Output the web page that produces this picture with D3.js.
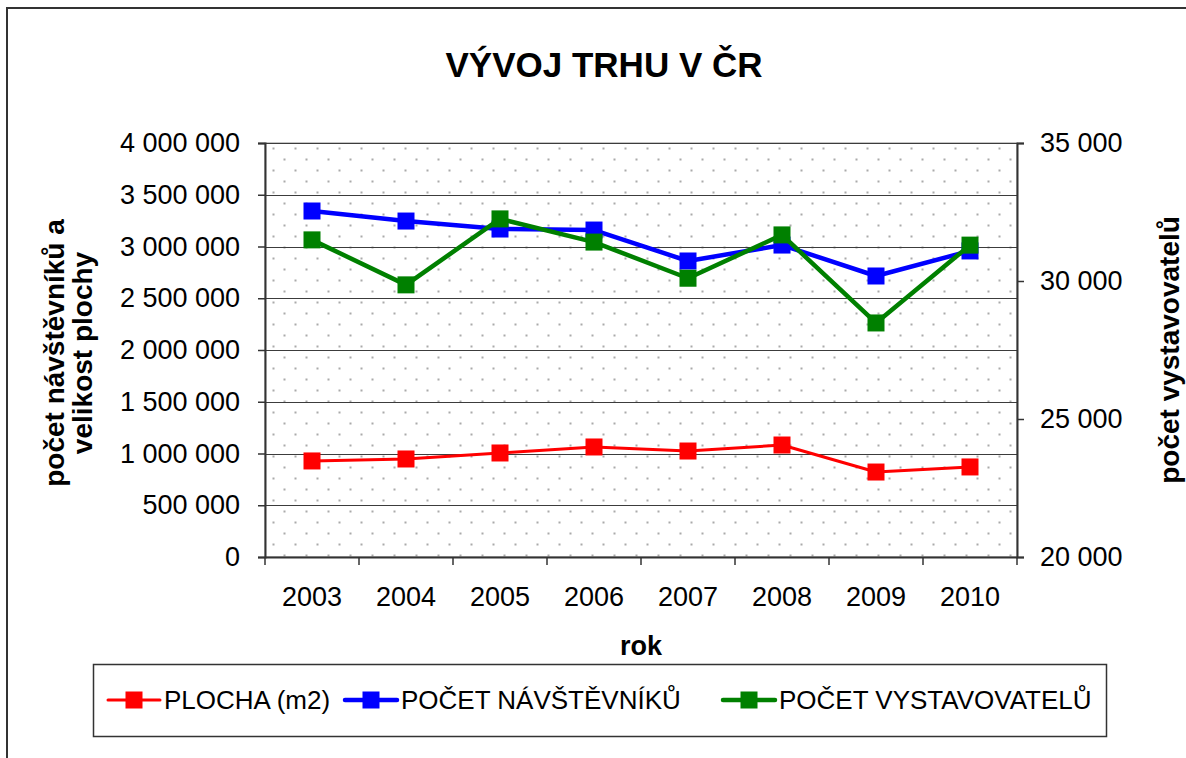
<!DOCTYPE html>
<head>
  <meta charset="utf-8">
  <title>Vývoj trhu v ČR</title>
  <script src="https://d3js.org/d3.v7.min.js"></script>
  <style>
    body { margin: 0; background: #fff; overflow: hidden; }
    svg { display: block; }
    text { font-family: "Liberation Sans", Arial, sans-serif; fill: #000; }
  </style>
</head>
<body>
<script>

  // data
  let years = ["2003","2004","2005","2006","2007","2008","2009","2010"];
  let plocha = [928000, 947000, 1005000, 1063000, 1024000, 1082000, 821000, 870000];
  let navstevnici = [3343000, 3246000, 3169000, 3159000, 2860000, 3014000, 2715000, 2957000];
  let vystavovatele = [31490, 29860, 32250, 31410, 30100, 31670, 28480, 31300];
  let leftTicks = [0,500000,1000000,1500000,2000000,2500000,3000000,3500000,4000000];
  let rightTicks = [20000,25000,30000,35000];

  let width = 1186;
  let height = 758;
  let plot = {left: 265, right: 1017, top: 143, bottom: 557};
  let fontSize = "27px";

  let locale = d3.formatLocale({decimal: ",", thousands: " ", grouping: [3], currency: ["",""]});
  let fmt = locale.format(",");

  let svg = d3.select("body").append("svg")
      .attr("width", width)
      .attr("height", height);

  // outer chart border (right and bottom edges fall outside the picture)
  svg.append("rect")
      .attr("x", 7).attr("y", 8)
      .attr("width", 1220).attr("height", 800)
      .style("fill", "none")
      .style("stroke", "#333")
      .style("stroke-width", 2);

  let x = d3.scaleBand().domain(years).range([plot.left, plot.right]);
  let yLeft = d3.scaleLinear().domain([0, 4000000]).range([plot.bottom, plot.top]);
  let yRight = d3.scaleLinear().domain([20000, 35000]).range([plot.bottom, plot.top]);

  // dotted background
  let defs = svg.append("defs");
  let pat = defs.append("pattern")
      .attr("id", "dots")
      .attr("patternUnits", "userSpaceOnUse")
      .attr("x", plot.left).attr("y", plot.top)
      .attr("width", 22).attr("height", 22);
  pat.append("rect").attr("width", 22).attr("height", 22).style("fill", "#fff");
  pat.append("rect").attr("x", 7.5).attr("y", 4.5).attr("width", 2).attr("height", 2).style("fill", "#aaa");
  pat.append("rect").attr("x", 18.5).attr("y", 15.5).attr("width", 2).attr("height", 2).style("fill", "#aaa");

  svg.append("rect")
      .attr("x", plot.left).attr("y", plot.top)
      .attr("width", plot.right - plot.left)
      .attr("height", plot.bottom - plot.top)
      .style("fill", "url(#dots)")
      .style("stroke", "#8c8c8c")
      .style("stroke-width", 1);

  // gridlines
  svg.append("g").selectAll("line")
      .data(leftTicks.slice(1))
      .enter()
      .append("line")
      .attr("x1", plot.left).attr("x2", plot.right)
      .attr("y1", d => Math.round(yLeft(d)) + 0.5)
      .attr("y2", d => Math.round(yLeft(d)) + 0.5)
      .style("stroke", "#3c3c3c")
      .style("stroke-width", 1);

  // left axis
  let gLeft = svg.append("g")
      .attr("transform", "translate(" + plot.left + ",0)")
      .call(d3.axisLeft(yLeft).tickValues(leftTicks).tickFormat(fmt).tickSize(7).tickPadding(18));

  // right axis
  let gRight = svg.append("g")
      .attr("transform", "translate(" + plot.right + ",0)")
      .call(d3.axisRight(yRight).tickValues(rightTicks).tickFormat(fmt).tickSize(7).tickPadding(16));

  // bottom axis, ticks on band boundaries
  let gBottom = svg.append("g")
      .attr("transform", "translate(0," + plot.bottom + ")")
      .call(d3.axisBottom(x).tickSize(0).tickPadding(30));
  gBottom.selectAll(".tick").append("line")
      .attr("class", "bound")
      .attr("x1", -x.bandwidth() / 2).attr("x2", -x.bandwidth() / 2)
      .attr("y1", 0).attr("y2", 8);
  gBottom.append("line")
      .attr("class", "bound")
      .attr("x1", plot.right).attr("x2", plot.right)
      .attr("y1", 0).attr("y2", 8);

  [gLeft, gRight, gBottom].forEach(function (g) {
    g.selectAll("text")
      .style("font-family", "'Liberation Sans', Arial, sans-serif")
      .style("font-size", fontSize)
      .style("fill", "#000");
    g.selectAll("line").style("stroke", "#333").style("stroke-width", 1.5);
    g.select(".domain").style("stroke", "#333").style("stroke-width", 2);
  });

  // series
  let series = [
    {name: "PLOCHA (m2)", values: plocha, scale: yLeft, color: "#ff0000", width: 3},
    {name: "POČET NÁVŠTĚVNÍKŮ", values: navstevnici, scale: yLeft, color: "#0000ff", width: 4.5},
    {name: "POČET VYSTAVOVATELŮ", values: vystavovatele, scale: yRight, color: "#008000", width: 4.5}
  ];

  let marker = 17;

  series.forEach(function (s) {
    let line = d3.line()
      .x((d, i) => x(years[i]) + x.bandwidth() / 2)
      .y(d => s.scale(d));

    svg.append("path")
      .datum(s.values)
      .attr("d", line)
      .style("fill", "none")
      .style("stroke", s.color)
      .style("stroke-width", s.width)
      .style("stroke-linejoin", "round");

    svg.append("g").selectAll("rect")
      .data(s.values)
      .enter()
      .append("rect")
      .attr("x", (d, i) => x(years[i]) + x.bandwidth() / 2 - marker / 2)
      .attr("y", d => s.scale(d) - marker / 2)
      .attr("width", marker).attr("height", marker)
      .style("fill", s.color);
  });

  // title
  svg.append("text")
      .text("VÝVOJ TRHU V ČR")
      .attr("x", 604).attr("y", 77)
      .attr("text-anchor", "middle")
      .style("font-size", "35px")
      .style("font-weight", "bold");

  // axis titles
  svg.append("text")
      .text("rok")
      .attr("x", (plot.left + plot.right) / 2).attr("y", 655)
      .attr("text-anchor", "middle")
      .style("font-size", fontSize)
      .style("font-weight", "bold");

  let leftTitle = svg.append("text")
      .attr("transform", "translate(64,353) rotate(-90)")
      .attr("text-anchor", "middle")
      .style("font-size", "28px")
      .style("font-weight", "bold");
  leftTitle.append("tspan").attr("x", 0).attr("y", 0).text("počet návštěvníků a");
  leftTitle.append("tspan").attr("x", 0).attr("y", 28).text("velikost plochy");

  svg.append("text")
      .text("počet vystavovatelů")
      .attr("transform", "translate(1179,350) rotate(-90)")
      .attr("text-anchor", "middle")
      .style("font-size", "28px")
      .style("font-weight", "bold");

  // legend
  let legend = svg.append("g");
  legend.append("rect")
      .attr("x", 93.5).attr("y", 664.5)
      .attr("width", 1013).attr("height", 72)
      .style("fill", "#fff")
      .style("stroke", "#333")
      .style("stroke-width", 1.5);

  let legendX = [108, 345, 723];
  series.forEach(function (s, i) {
    let g = legend.append("g").attr("transform", "translate(" + legendX[i] + ",700)");
    g.append("line")
      .attr("x1", 0).attr("x2", 52)
      .attr("y1", 0).attr("y2", 0)
      .style("stroke", s.color)
      .style("stroke-width", s.width)
      .style("stroke-linecap", "round");
    g.append("rect")
      .attr("x", 26 - 8.5).attr("y", -8.5)
      .attr("width", 17).attr("height", 17)
      .style("fill", s.color);
    g.append("text")
      .text(s.name)
      .attr("x", 56).attr("y", 9)
      .style("font-size", "26px");
  });

</script>
</body>
